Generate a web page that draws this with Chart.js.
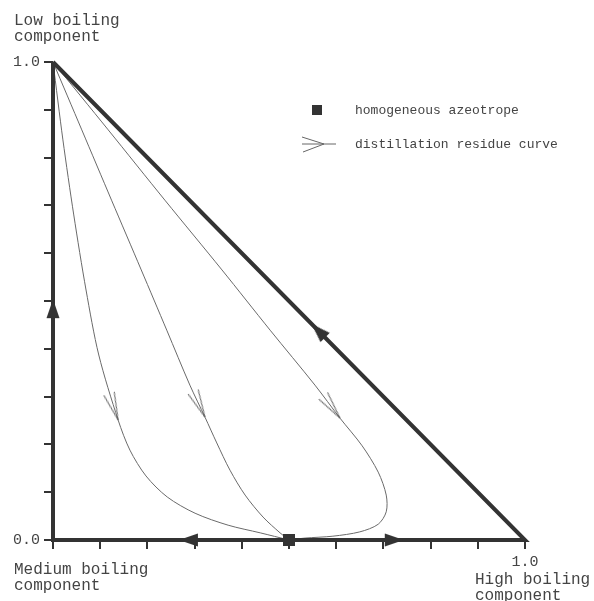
<!DOCTYPE html>
<html>
<head>
<meta charset="utf-8">
<script src="https://cdn.jsdelivr.net/npm/chart.js@4.4.1/dist/chart.umd.min.js"></script>
<style>
  html, body { margin: 0; padding: 0; background: #fff; }
  #wrap { width: 594px; height: 601px; position: relative; }
</style>
</head>
<body>
<div id="wrap"><canvas id="cMap"></canvas></div>
<script>
// ---- data (x = high boiling fraction, y = low boiling fraction) ----
const triX = [0, 0, 1, 0];
const triY = [1, 0, 0, 1];

const curve1X = [0, 0.021, 0.044, 0.070, 0.097, 0.138, 0.163, 0.197, 0.242, 0.301, 0.371, 0.439, 0.5];
const curve1Y = [1, 0.837, 0.680, 0.523, 0.387, 0.251, 0.188, 0.134, 0.090, 0.056, 0.031, 0.015, 0];

const curve2X = [0, 0.061, 0.124, 0.187, 0.241, 0.290, 0.322, 0.347, 0.375, 0.407, 0.445, 0.481, 0.5];
const curve2Y = [1, 0.858, 0.711, 0.565, 0.439, 0.324, 0.257, 0.203, 0.146, 0.094, 0.048, 0.015, 0];

const curve3X = [0, 0.117, 0.237, 0.358, 0.460, 0.555, 0.608, 0.655, 0.689, 0.706, 0.706, 0.689, 0.650, 0.593, 0.534, 0.5];
const curve3Y = [1, 0.858, 0.711, 0.565, 0.439, 0.324, 0.255, 0.197, 0.142, 0.094, 0.059, 0.033, 0.017, 0.008, 0.004, 0];

const flowArrowX = [0.138, 0.322, 0.608];
const flowArrowY = [0.251, 0.257, 0.255];
const flowArrowRot = [161, 155, 143];

const edgeArrowX = [0, 0.563, 0.288, 0.722];
const edgeArrowY = [0.483, 0.437, 0, 0];
const edgeArrowRot = [0, -45, -90, 90];

const azeoX = [0.5];
const azeoY = [0];

const legendLabels = ['homogeneous azeotrope', 'distillation residue curve'];
const axisNames = {
  low: ['Low boiling', 'component'],
  med: ['Medium boiling', 'component'],
  high: ['High boiling', 'component']
};

const INK = '#333';
const TXT = '#444';
const MONO = '"Liberation Mono", "DejaVu Sans Mono", monospace';

const pts = (xs, ys) => xs.map((x, i) => ({ x, y: ys[i] }));

// open V arrow, tip at centre, pointing up
function vArrow() {
  const c = document.createElement('canvas');
  c.width = 60; c.height = 60;
  const g = c.getContext('2d');
  g.strokeStyle = '#666'; g.lineWidth = 1;
  g.beginPath(); g.moveTo(24.5, 58); g.lineTo(30, 30); g.lineTo(35.5, 58); g.stroke();
  return c;
}
// filled arrow head, pointing up
function solidArrow() {
  const c = document.createElement('canvas');
  c.width = 24; c.height = 24;
  const g = c.getContext('2d');
  g.fillStyle = INK;
  g.beginPath(); g.moveTo(12, 2); g.lineTo(18.5, 21); g.lineTo(5.5, 21); g.closePath(); g.fill();
  return c;
}

const labelsPlugin = {
  id: 'labels',
  afterDraw(chart) {
    const { ctx, chartArea: a } = chart;
    ctx.save();
    ctx.fillStyle = TXT;
    ctx.font = '16px ' + MONO;
    ctx.textBaseline = 'alphabetic';
    ctx.textAlign = 'left';
    ctx.fillText(axisNames.low[0], 14, a.top - 37);
    ctx.fillText(axisNames.low[1], 14, a.top - 21);
    ctx.fillText(axisNames.med[0], 14, a.bottom + 34);
    ctx.fillText(axisNames.med[1], 14, a.bottom + 50);
    ctx.fillText(axisNames.high[0], 475, a.bottom + 44);
    ctx.fillText(axisNames.high[1], 475, a.bottom + 60);

    // legend
    ctx.font = '13px ' + MONO;
    ctx.textBaseline = 'middle';
    ctx.fillStyle = INK;
    ctx.fillRect(312, 105, 10, 10);
    ctx.fillStyle = TXT;
    ctx.fillText(legendLabels[0], 355, 111);
    ctx.strokeStyle = '#666'; ctx.lineWidth = 1;
    ctx.beginPath();
    ctx.moveTo(302, 144); ctx.lineTo(336, 144);
    ctx.moveTo(302, 137); ctx.lineTo(324, 144); ctx.lineTo(303, 152);
    ctx.stroke();
    ctx.fillText(legendLabels[1], 355, 145);
    ctx.restore();
  }
};

const isEnd = v => Math.abs(v) < 1e-6 || Math.abs(v - 1) < 1e-6;
const curveDs = (xs, ys) => ({
  data: pts(xs, ys), showLine: true, borderColor: '#6a6a6a', borderWidth: 1,
  pointRadius: 0, tension: 0.3, clip: false
});

new Chart(document.getElementById('cMap'), {
  type: 'scatter',
  data: {
    datasets: [
      { data: pts(azeoX, azeoY), pointStyle: 'rect', pointRadius: 8.5,
        backgroundColor: INK, borderColor: INK, borderWidth: 0, clip: false },
      { data: pts(edgeArrowX, edgeArrowY), pointStyle: solidArrow(), pointRadius: 10,
        rotation: edgeArrowRot, clip: false },
      { data: pts(triX, triY), showLine: true, borderColor: INK, borderWidth: 4,
        pointRadius: 0, tension: 0, clip: false, borderJoinStyle: 'miter' },
      { data: pts(flowArrowX, flowArrowY), pointStyle: vArrow(), pointRadius: 10,
        rotation: flowArrowRot, clip: false },
      curveDs(curve1X, curve1Y),
      curveDs(curve2X, curve2Y),
      curveDs(curve3X, curve3Y)
    ]
  },
  options: {
    responsive: true, maintainAspectRatio: false, animation: false,
    layout: { padding: { top: 62, right: 69, bottom: 21, left: 0 } },
    plugins: { legend: { display: false }, tooltip: { enabled: false } },
    scales: {
      x: {
        type: 'linear', min: 0, max: 1,
        afterFit: s => { s.height = 40; },
        border: { display: false },
        grid: { drawOnChartArea: false, tickLength: 9, color: INK, lineWidth: 2 },
        ticks: { stepSize: 0.1, autoSkip: false, maxRotation: 0, padding: 4, color: TXT,
          font: { family: MONO, size: 15 },
          callback: v => Math.abs(v - 1) < 1e-6 ? '1.0' : '' }
      },
      y: {
        type: 'linear', min: 0, max: 1,
        afterFit: s => { s.width = 53; },
        border: { display: false },
        grid: { drawOnChartArea: false, tickLength: 9, color: INK, lineWidth: 2 },
        ticks: { stepSize: 0.1, autoSkip: false, padding: 4, color: TXT,
          font: { family: MONO, size: 15 },
          callback: v => isEnd(v) ? v.toFixed(1) : '' }
      }
    }
  },
  plugins: [labelsPlugin]
});
</script>
</body>
</html>
